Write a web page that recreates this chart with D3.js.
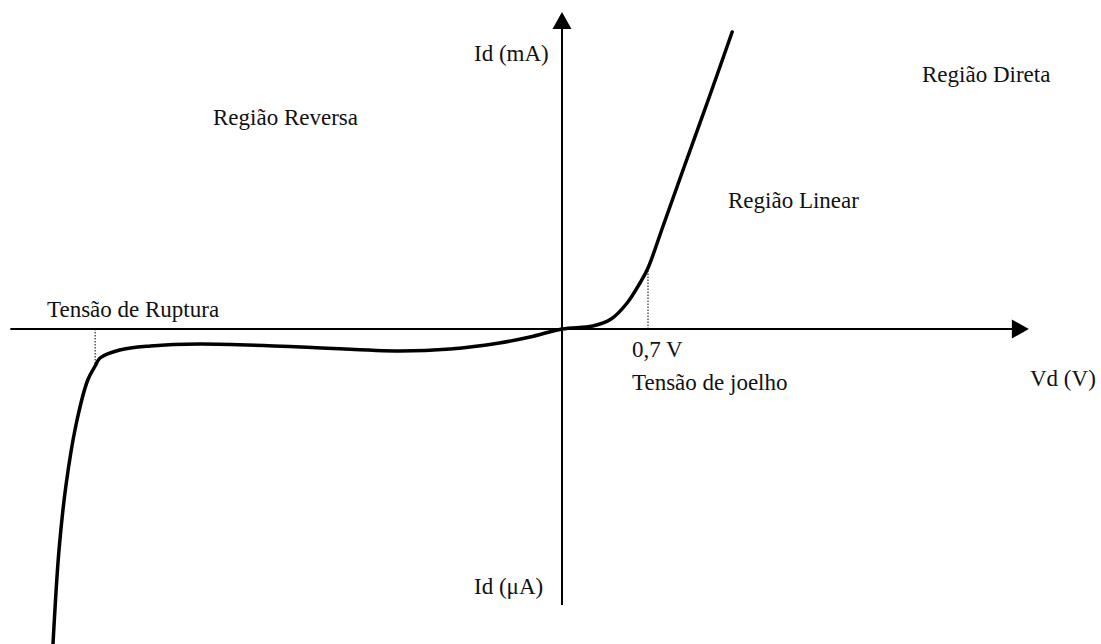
<!DOCTYPE html>
<html>
<head>
<meta charset="utf-8">
<script src="https://cdn.jsdelivr.net/npm/d3@7"></script>
<style>
    body { margin: 0; background: #fff; }
</style>
</head>
<body>
<div id="chart"></div>
<script>
const width = 1101;
const height = 644;

// diode curve, voltage (V) and current (arbitrary units, mA above / uA below)
const curveV = [-4.143, -4.094, -4.037, -3.956, -3.86, -3.80, -3.76, -3.60, -3.35,
    -2.95, -2.13, -1.32, -0.91, -0.51, -0.26, 0, 0.25, 0.40, 0.53, 0.635, 0.70, 0.82, 0.985, 1.19, 1.385];
const curveI = [-31.5, -22.1, -15.6, -9.6, -5.1, -3.7, -2.9, -2.1, -1.7,
    -1.5, -1.8, -2.2, -2.0, -1.4, -0.8, 0, 0.3, 1.0, 2.6, 4.6, 6.1, 10.2, 15.9, 22.9, 29.7];

const kneeV = 0.7;
const kneeI = 6.1;
const breakV = -3.8;
const breakI = -3.7;

const axisV = [-4.49, 3.8];
const axisI = [-27.6, 31.7];

const data = curveV.map((v, i) => ({ v: v, i: curveI[i] }));

const svg = d3.select('#chart')
    .append('svg')
    .attr('width', width)
    .attr('height', height);

const x = d3.scaleLinear()
    .domain([0, 1])
    .range([562, 562 + 122.86]);

const y = d3.scaleLinear()
    .domain([0, 1])
    .range([329, 319]);

// axes
svg.append('line')
    .attr('x1', x(axisV[0]))
    .attr('x2', x(axisV[1]) - 16)
    .attr('y1', y(0))
    .attr('y2', y(0))
    .attr('stroke', 'black')
    .attr('stroke-width', 2);

svg.append('path')
    .attr('d', `M${x(axisV[1])},${y(0)} L${x(axisV[1]) - 17},${y(0) - 9.5} L${x(axisV[1]) - 17},${y(0) + 9.5} Z`)
    .attr('fill', 'black');

svg.append('line')
    .attr('x1', x(0))
    .attr('x2', x(0))
    .attr('y1', y(axisI[0]))
    .attr('y2', y(axisI[1]) + 16)
    .attr('stroke', 'black')
    .attr('stroke-width', 2);

svg.append('path')
    .attr('d', `M${x(0)},${y(axisI[1])} L${x(0) - 9.5},${y(axisI[1]) + 17} L${x(0) + 9.5},${y(axisI[1]) + 17} Z`)
    .attr('fill', 'black');

// dotted guides
svg.append('line')
    .attr('x1', x(kneeV))
    .attr('x2', x(kneeV))
    .attr('y1', y(0))
    .attr('y2', y(kneeI))
    .attr('stroke', 'black')
    .attr('stroke-width', 1)
    .attr('stroke-dasharray', '1.5,1.5');

svg.append('line')
    .attr('x1', x(breakV))
    .attr('x2', x(breakV))
    .attr('y1', y(0))
    .attr('y2', y(breakI))
    .attr('stroke', 'black')
    .attr('stroke-width', 1)
    .attr('stroke-dasharray', '1.5,1.5');

// curve
const line = d3.line()
    .x((d) => x(d.v))
    .y((d) => y(d.i))
    .curve(d3.curveCatmullRom.alpha(0.5));

svg.append('path')
    .datum(data)
    .attr('d', line)
    .attr('fill', 'none')
    .attr('stroke', 'black')
    .attr('stroke-width', 3.5)
    .attr('stroke-linecap', 'round')
    .attr('stroke-linejoin', 'round');

// labels
const labels = [
    { t: 'Id (mA)', x: 474, y: 61 },
    { t: 'Região Reversa', x: 213, y: 125 },
    { t: 'Região Direta', x: 922, y: 82 },
    { t: 'Região Linear', x: 728, y: 208 },
    { t: 'Tensão de Ruptura', x: 47, y: 317 },
    { t: '0,7 V', x: 632, y: 357 },
    { t: 'Vd (V)', x: 1030, y: 386 },
    { t: 'Tensão de joelho', x: 632, y: 390 },
    { t: 'Id (\u03bcA)', x: 474, y: 594 },
];

svg.selectAll('text.lbl')
    .data(labels)
    .enter()
    .append('text')
    .attr('class', 'lbl')
    .attr('x', (d) => d.x)
    .attr('y', (d) => d.y)
    .text((d) => d.t)
    .style('font-size', '23px')
    .style('font-family', '"Liberation Serif", "Times New Roman", serif')
    .style('fill', '#111');
</script>
</body>
</html>
